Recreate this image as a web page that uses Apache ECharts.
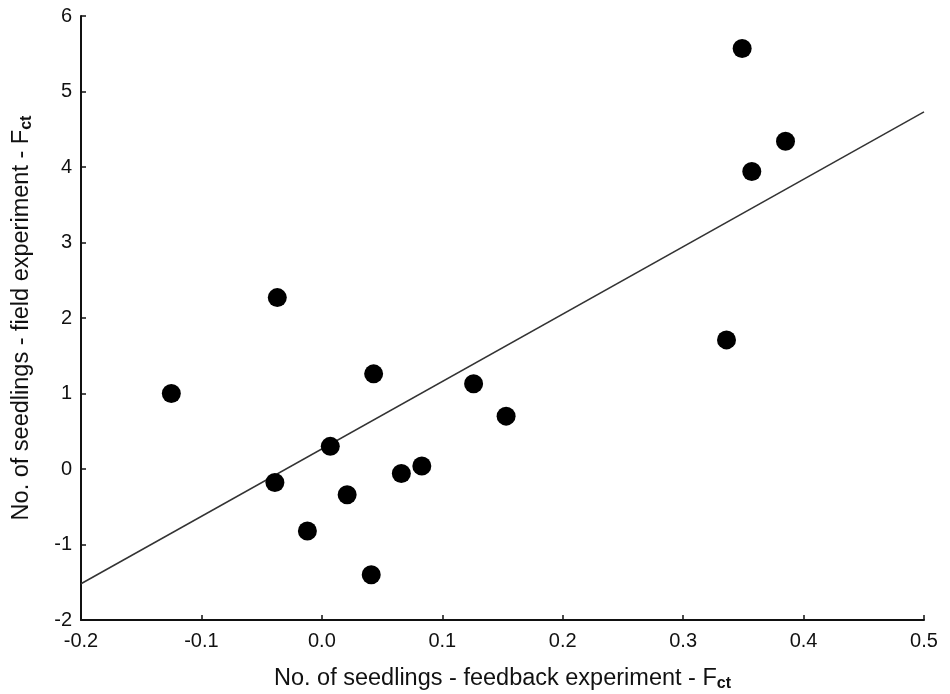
<!DOCTYPE html>
<html>
<head>
<meta charset="utf-8">
<script src="https://cdn.jsdelivr.net/npm/echarts@6/dist/echarts.min.js"></script>
<style>
  html, body { margin: 0; padding: 0; background: #fff; }
  #chart { width: 950px; height: 694px; }
</style>
</head>
<body>
<div id="chart"></div>
<script>
// feedback experiment Fct (x) vs field experiment Fct (y)
const feedbackFct = [0.349, 0.385, 0.357, 0.336, -0.037, -0.125, 0.043, 0.007, -0.039, 0.021, -0.012, 0.041, 0.126, 0.153, 0.083, 0.066];
const fieldFct = [5.57, 4.34, 3.94, 1.71, 2.27, 1.00, 1.26, 0.30, -0.18, -0.34, -0.82, -1.40, 1.13, 0.70, 0.04, -0.06];
// regression line end points
const fitX = [-0.2, 0.5];
const fitY = [-1.52, 4.73];

const font = '"Liberation Sans", Arial, sans-serif';
const points = feedbackFct.map((x, i) => [x, fieldFct[i]]);
const fitLine = fitX.map((x, i) => [x, fitY[i]]);

const subRich = {
  sub: { fontSize: 16, fontWeight: 'bold', fontFamily: font, color: '#111', verticalAlign: 'bottom', padding: [10, 0, 0, 0] }
};

const chart = echarts.init(document.getElementById('chart'));
chart.setOption({
  animation: false,
  grid: { left: 81, right: 26, top: 16, bottom: 74, outerBoundsMode: 'none' },
  xAxis: {
    type: 'value',
    min: -0.2,
    max: 0.5,
    interval: 0.1,
    name: 'No. of seedlings - feedback experiment - F{sub|ct}',
    nameLocation: 'middle',
    nameGap: 46,
    nameTextStyle: { fontSize: 23.5, fontFamily: font, color: '#111', rich: subRich },
    axisLine: { onZero: false, lineStyle: { color: '#111', width: 2 } },
    axisTick: { inside: true, length: 5, lineStyle: { color: '#111', width: 1.5 } },
    axisLabel: {
      fontSize: 20, fontFamily: font, color: '#111', margin: 11,
      formatter: v => v.toFixed(1)
    },
    splitLine: { show: false }
  },
  yAxis: {
    type: 'value',
    min: -2,
    max: 6,
    interval: 1,
    name: 'No. of seedlings - field experiment - F{sub|ct}',
    nameLocation: 'middle',
    nameGap: 46,
    nameTextStyle: { fontSize: 23.5, fontFamily: font, color: '#111', rich: subRich },
    axisLine: { show: true, onZero: false, lineStyle: { color: '#111', width: 2 } },
    axisTick: { show: true, inside: true, length: 5, lineStyle: { color: '#111', width: 1.5 } },
    axisLabel: { fontSize: 20, fontFamily: font, color: '#111', margin: 9 },
    splitLine: { show: false }
  },
  series: [
    {
      type: 'line',
      data: fitLine,
      symbol: 'none',
      lineStyle: { color: '#333', width: 1.5 },
      z: 1
    },
    {
      type: 'scatter',
      data: points,
      symbol: 'circle',
      symbolSize: 19,
      itemStyle: { color: '#000', opacity: 1 },
      z: 2
    }
  ]
});
</script>
</body>
</html>
